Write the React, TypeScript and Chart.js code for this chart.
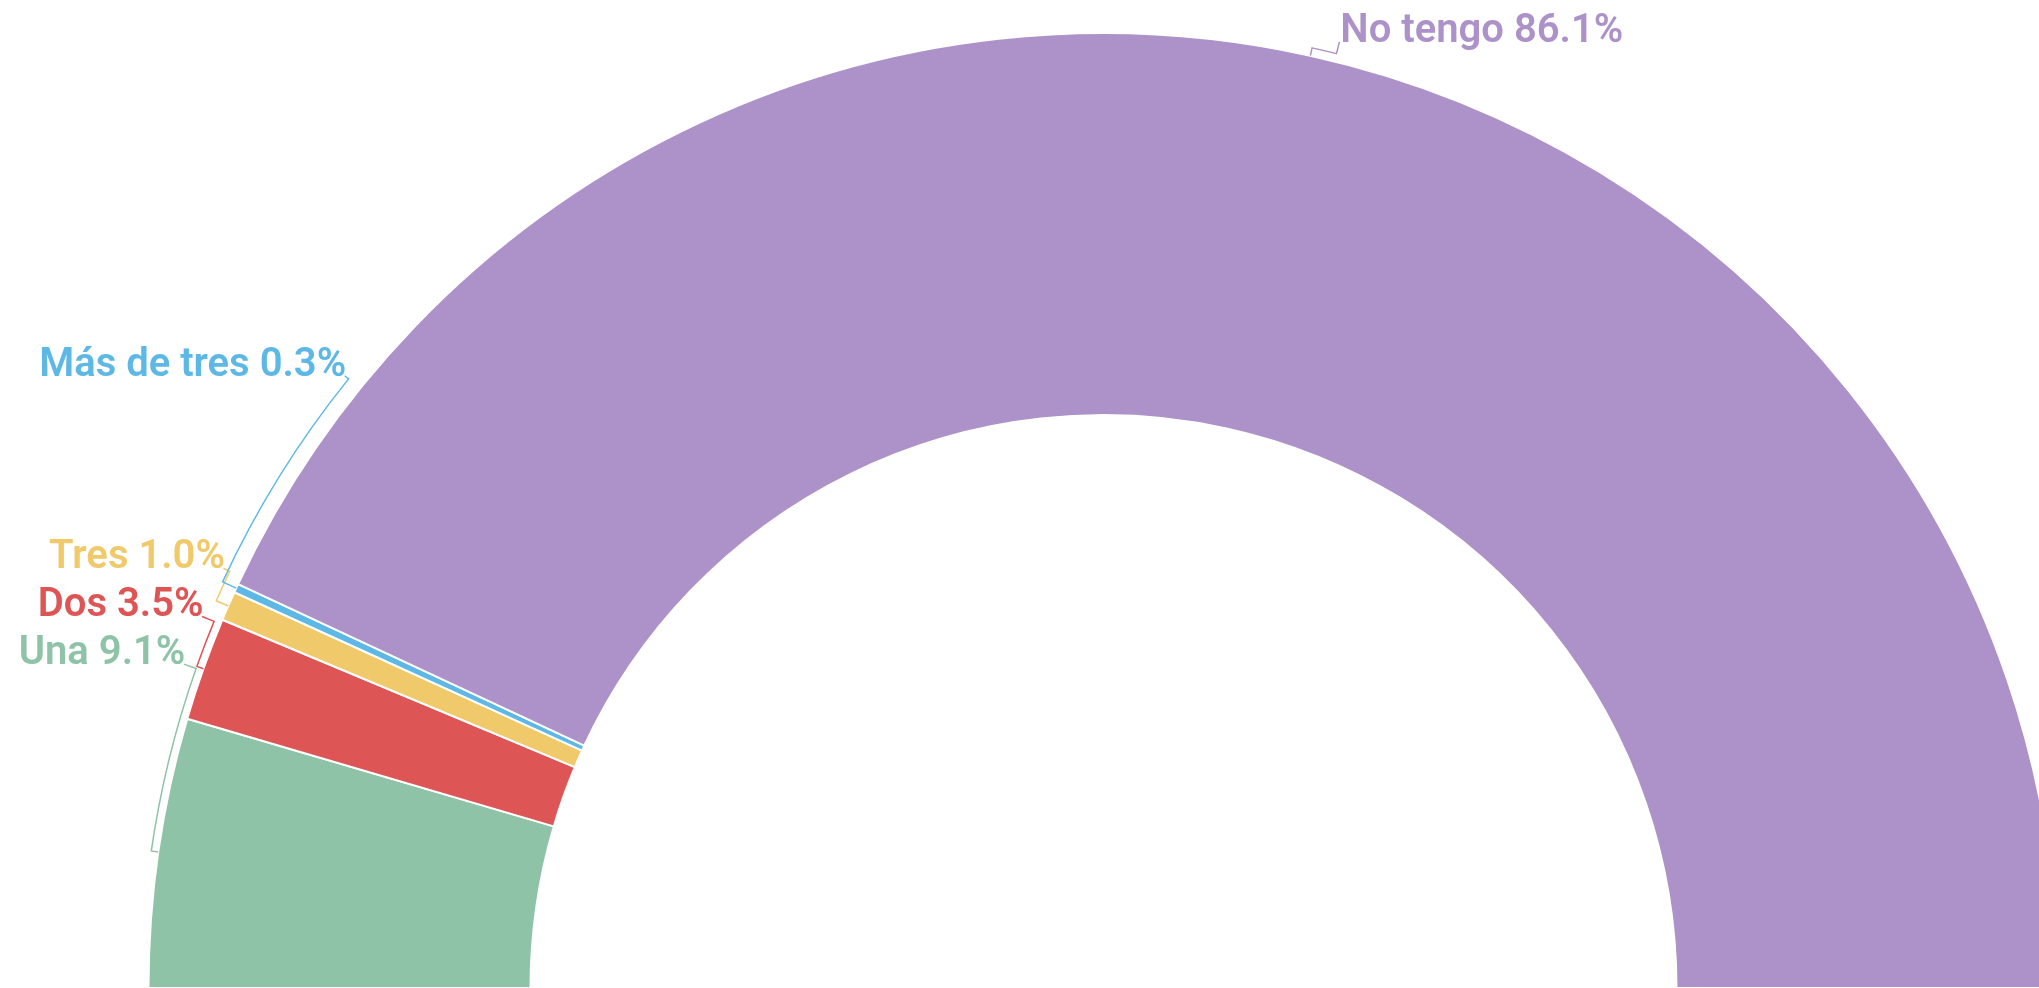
import React, { useEffect, useRef } from "react";
import { Chart, registerables } from "chart.js";

Chart.register(...registerables);

// ---- data ----
const categories = ["Una", "Dos", "Tres", "Más de tres", "No tengo"];
const values = [9.1, 3.5, 1.0, 0.3, 86.1];

// ---- style / layout ----
const colors = ["#8FC3A8", "#DD5555", "#F0CA6A", "#5DB8E5", "#AC92C8"];
// label angle in degrees, measured from the left end of the half ring, clockwise over the top
const labelAngles = [19.4, 22.4, 25.5, 38.9, 104.0];
// radial offset of each leader bracket beyond the outer radius
const leaderOffsets = [7, 7, 13, 15, 8];
const TEXT_OFFSET = 20;
const FONT = "600 40px Roboto";

const bracketLabels = {
  id: "bracketLabels",
  afterDatasetsDraw(chart: any) {
    const meta = chart.getDatasetMeta(0);
    const ctx = chart.ctx as CanvasRenderingContext2D;
    ctx.save();
    ctx.font = FONT;
    ctx.textBaseline = "alphabetic";
    meta.data.forEach((arc: any, i: number) => {
      const { x, y, startAngle, endAngle, outerRadius } = arc.getProps(
        ["x", "y", "startAngle", "endAngle", "outerRadius"],
        true
      );
      const mid = (startAngle + endAngle) / 2;
      const la = -Math.PI + (labelAngles[i] * Math.PI) / 180;
      const R = outerRadius;
      const rArc = R + leaderOffsets[i];
      const rText = R + TEXT_OFFSET;
      const pt = (r: number, a: number): [number, number] => [
        x + r * Math.cos(a),
        y + r * Math.sin(a),
      ];
      ctx.strokeStyle = colors[i];
      ctx.lineWidth = 1.5;
      ctx.lineJoin = "miter";
      ctx.beginPath();
      let p = pt(R, mid);
      ctx.moveTo(p[0], p[1]);
      p = pt(rArc, mid);
      ctx.lineTo(p[0], p[1]);
      ctx.arc(x, y, rArc, mid, la, la < mid);
      p = pt(rText, la);
      ctx.lineTo(p[0], p[1]);
      ctx.stroke();
      const right = Math.cos(la) >= 0;
      ctx.textAlign = right ? "left" : "right";
      ctx.fillStyle = colors[i];
      ctx.fillText(
        `${categories[i]} ${values[i].toFixed(1)}%`,
        p[0] + (right ? 1 : 1.5),
        p[1]
      );
    });
    ctx.restore();
  },
};

export default function App() {
  const ref = useRef<HTMLCanvasElement | null>(null);

  useEffect(() => {
    if (!ref.current) return;
    const chart = new Chart(ref.current, {
      type: "doughnut",
      data: {
        labels: categories,
        datasets: [
          {
            data: values,
            backgroundColor: colors,
            borderColor: "#ffffff",
            borderWidth: 2,
            radius: 955,
            clip: false,
          } as any,
        ],
      },
      options: {
        animation: false,
        responsive: false,
        devicePixelRatio: 1,
        events: [],
        rotation: -90,
        circumference: 180,
        cutout: "60%",
        layout: { padding: { left: 168, right: 0, top: 33, bottom: 0 } },
        plugins: {
          legend: { display: false },
          tooltip: { enabled: false },
        },
      } as any,
      plugins: [bracketLabels],
    });
    return () => chart.destroy();
  }, []);

  return (
    <div
      style={{
        position: "fixed",
        left: 0,
        top: 0,
        width: 2039,
        height: 988,
        overflow: "hidden",
        background: "#ffffff",
      }}
    >
      <canvas ref={ref} width={2039} height={988} style={{ display: "block" }} />
    </div>
  );
}
